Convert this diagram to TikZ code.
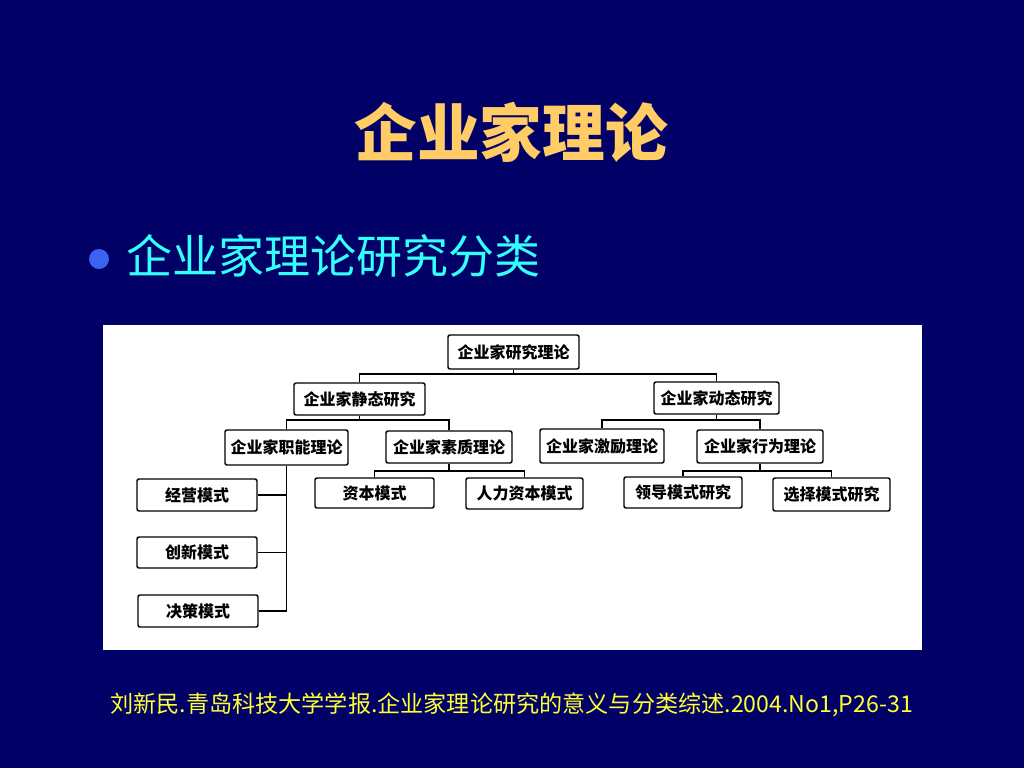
\documentclass[tikz,border=0pt]{standalone}
\usepackage{fontspec}
\setmainfont{Noto Sans CJK SC}
\newfontfamily\cjk{Noto Sans CJK SC}
\definecolor{bgnavy}{RGB}{0,0,102}
\definecolor{titlegold}{RGB}{255,204,102}
\definecolor{subcyan}{RGB}{51,255,255}
\definecolor{bulletblue}{RGB}{60,100,240}
\definecolor{footyellow}{RGB}{255,255,51}
\tikzset{
  box/.style={draw=black, line width=1.1pt, rounded corners=1.5pt, fill=white,
    inner sep=0pt, text=black, font=\cjk\bfseries\fontsize{12pt}{14pt}\selectfont},
  link/.style={draw=black, line width=0.9pt},
}
\begin{document}
\begin{tikzpicture}[x=0.75pt,y=-0.75pt]
\fill[bgnavy] (0,0) rectangle (1024,768);
\useasboundingbox (0,0) rectangle (1024,768);
% title
\node[text=titlegold, font=\cjk\bfseries\fontsize{47pt}{52pt}\selectfont] (title) at (511,132) {企业家理论};
% bullet
\fill[bulletblue] (99,259) circle (10);
\node[anchor=west, text=subcyan, font=\cjk\fontsize{34.5pt}{40pt}\selectfont] (sub) at (122,256) {企业家理论研究分类};
% panel
\fill[white] (103,325) rectangle (922,650);
% boxes
\node[box, minimum width=98.25pt, minimum height=25.5pt] (top) at (513.5,352) {企业家研究理论};
\node[box, minimum width=98.25pt, minimum height=24pt] (jt) at (359.5,399) {企业家静态研究};
\node[box, minimum width=93.75pt, minimum height=24pt] (dt) at (716.5,398) {企业家动态研究};
\node[box, minimum width=92.25pt, minimum height=26.25pt] (zn) at (286.5,447.5) {企业家职能理论};
\node[box, minimum width=94.5pt, minimum height=24pt] (sz) at (449,447) {企业家素质理论};
\node[box, minimum width=93pt, minimum height=25.5pt] (jl) at (602,446) {企业家激励理论};
\node[box, minimum width=94.5pt, minimum height=24.75pt] (xw) at (760,446.5) {企业家行为理论};
\node[box, minimum width=89.25pt, minimum height=22.5pt] (zb) at (374.5,493) {资本模式};
\node[box, minimum width=87.75pt, minimum height=23.25pt] (rl) at (524.5,493.5) {人力资本模式};
\node[box, minimum width=88.5pt, minimum height=23.25pt] (ld) at (683,492.5) {领导模式研究};
\node[box, minimum width=87.75pt, minimum height=24.75pt] (xz) at (831.5,494.5) {选择模式研究};
\node[box, minimum width=90pt, minimum height=24pt] (jy) at (197,495) {经营模式};
\node[box, minimum width=90pt, minimum height=23.25pt] (cx) at (197,552.5) {创新模式};
\node[box, minimum width=90pt, minimum height=24pt] (jc) at (198,611) {决策模式};
% bus levels
\coordinate (b1) at (0,374);
\coordinate (b2) at (0,420);
\coordinate (b3) at (0,471);
% connectors
\draw[link] (top.south) -- (top.south |- b1);
\draw[link] (jt.north) |- (top.south |- b1) -| (dt.north);
\draw[link] (jt.south) -- (jt.south |- b2);
\draw[link] (zn.north) |- (jt.south |- b2) -| (sz.north);
\draw[link] (dt.south) -- (dt.south |- b2);
\draw[link] (jl.north) |- (dt.south |- b2) -| (xw.north);
\draw[link] (sz.south) -- (sz.south |- b3);
\draw[link] (zb.north) |- (sz.south |- b3) -| (rl.north);
\draw[link] (xw.south) -- (xw.south |- b3);
\draw[link] (ld.north) |- (xw.south |- b3) -| (xz.north);
\draw[link] (zn.south) |- (jc.east);
\draw[link] (jy.east) -- (jy.east -| zn.south);
\draw[link] (cx.east) -- (cx.east -| zn.south);
% footer
\node[anchor=west, text=footyellow, inner sep=0pt, font=\cjk\fontsize{17.35pt}{20pt}\selectfont] (foot) at (110,705) {刘新民.青岛科技大学学报.企业家理论研究的意义与分类综述.2004.No1,P26-31};
\end{tikzpicture}
\end{document}
